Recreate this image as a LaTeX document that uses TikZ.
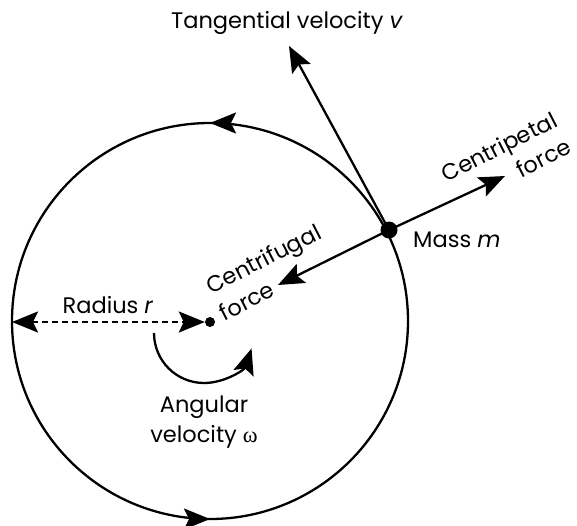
\documentclass[tikz,border=0pt]{standalone}
\usepackage{fontspec}
\setmainfont{Poppins}
\newfontfamily\greekfont{Liberation Serif}
\usetikzlibrary{arrows.meta,positioning,decorations.markings}

\tikzset{
  tip/.tip={Stealth[length=26pt,width=21pt,inset=5pt]},
  vec/.style={-tip, line width=2.3pt},
  lbl/.style={font=\fontsize{22.5}{30}\selectfont, inner sep=0pt},
  dot/.style={circle, fill, inner sep=0pt},
  orbit/.style={line width=2.3pt, postaction={decorate}, decoration={markings,
    mark=at position 0.25 with {\arrow{tip}},
    mark=at position 0.75 with {\arrow{tip}}}},
}

\begin{document}
\begin{tikzpicture}[x=1pt, y=-1pt]
  \useasboundingbox (0,0) rectangle (577,525);

  % Path of the mass
  \draw[orbit] (210,321) circle (198pt);

  % Centre and mass
  \node[dot, minimum size=10pt] (centre) at (210,322) {};
  \node[dot, minimum size=17pt] (mass) at (389,230) {};

  % Free ends of the vectors
  \coordinate (vtip) at (289,46);
  \coordinate (cptip) at (505,176);
  \coordinate (cftip) at (278,285);
  \coordinate (rleft) at (12,322);
  \coordinate (wstart) at (154,333);

  % Vectors
  \draw[vec] (mass.center) -- (vtip);
  \draw[vec] (mass.center) -- (cptip);
  \draw[vec] (mass.center) -- (cftip);
  \draw[vec, tip-tip, dash pattern=on 6pt off 4pt] (rleft) -- (centre);
  \draw[vec] (wstart) arc[start angle=180, end angle=342, radius=50pt];

  % Labels
  \node[lbl] (vlabel) at (287,23) {Tangential velocity \textit{v}};
  \node[lbl] (rlabel) at (108,305) {Radius \textit{r}};
  \node[lbl, align=center] (wlabel) at (204,422) {Angular\\velocity {\greekfont ω}};
  \node[lbl, anchor=west] (mlabel) at (413,240) {Mass \textit{m}};
  \node[lbl, align=left, rotate=27] (cflabel) at (270,272) {Centrifugal\\force};
  \node[lbl, align=right, rotate=27] (cplabel) at (506,160) {Centripetal\\force};
\end{tikzpicture}
\end{document}
